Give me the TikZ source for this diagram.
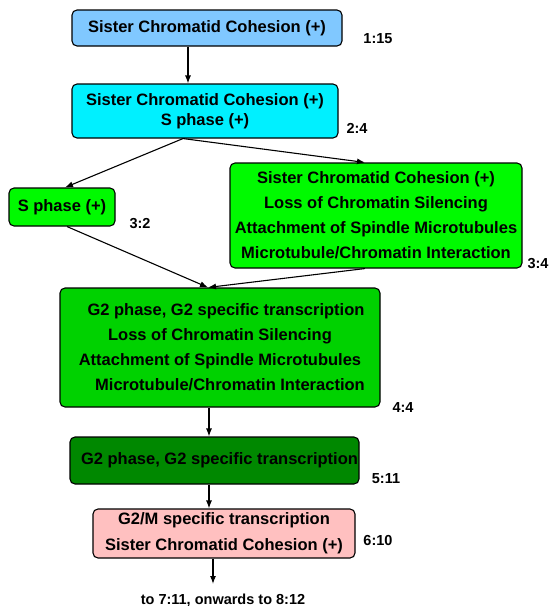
\documentclass[tikz,border=0pt]{standalone}
\usepackage{fontspec}
\setmainfont{Liberation Sans}
\usetikzlibrary{arrows.meta}
\definecolor{cA}{RGB}{128,200,255}
\definecolor{cB}{RGB}{0,240,255}
\definecolor{cC}{RGB}{0,250,0}
\definecolor{cD}{RGB}{0,210,0}
\definecolor{cE}{RGB}{0,136,0}
\definecolor{cF}{RGB}{255,192,192}
\tikzset{
  box/.style={draw=black, line width=1.1pt, rounded corners=5pt, align=center, inner sep=0pt,
    font=\fontsize{16.5}{20}\selectfont\bfseries},
  lab/.style={font=\fontsize{14.5}{17}\selectfont\bfseries, inner sep=0pt},
  arr/.style={line width=1.1pt, -{Latex[length=8pt,width=6pt]}},
}
\begin{document}
\begin{tikzpicture}[x=1pt,y=-1pt]
\useasboundingbox (0,0) rectangle (556,606);
\node[box, fill=cA, minimum width=270, minimum height=36] (b1) at (207,28) {Sister Chromatid Cohesion (+)};
\node[box, fill=cB, minimum width=266, minimum height=54] (b2) at (205,111) {Sister Chromatid Cohesion (+)\\S phase (+)};
\node[box, fill=cC, minimum width=106, minimum height=38] (b3) at (62,207) {S phase (+)};
\node[box, fill=cC, minimum width=292, minimum height=105, font=\fontsize{16.5}{25}\selectfont\bfseries] (b4) at (376,215.5)
  {Sister Chromatid Cohesion (+)\\Loss of Chromatin Silencing\\Attachment of Spindle Microtubules\\Microtubule/Chromatin Interaction};
\node[box, fill=cD, minimum width=320, minimum height=119, font=\fontsize{16.5}{25}\selectfont\bfseries] (b5) at (220,347.5)
  {\hspace*{12pt}G2 phase, G2 specific transcription\\Loss of Chromatin Silencing\hspace*{6pt}\\Attachment of Spindle Microtubules\\\hspace*{20pt}Microtubule/Chromatin Interaction};
\node[box, fill=cE, minimum width=289, minimum height=47] (b6) at (214.5,460.5) {\hspace*{10pt}G2 phase, G2 specific transcription};
\node[box, fill=cF, minimum width=262, minimum height=49, font=\fontsize{16.5}{26}\selectfont\bfseries] (b7) at (224,533.5)
  {G2/M specific transcription\\Sister Chromatid Cohesion (+)};

\node[lab] (l1) at (378,39) {1:15};
\node[lab] (l2) at (357,128) {2:4};
\node[lab] (l3) at (140,224) {3:2};
\node[lab] (l4) at (538,264) {3:4};
\node[lab] (l5) at (403,408) {4:4};
\node[lab] (l6) at (386,479) {5:11};
\node[lab] (l7) at (378,541) {6:10};
\node[lab] (l8) at (223,600) {to 7:11, onwards to 8:12};
\coordinate (end) at (213,584);

\draw[arr] ([xshift=-19pt]b1.south) -- ([xshift=-17pt]b2.north);
\draw[arr] ([xshift=-22pt]b2.south) -- ([xshift=3pt]b3.north);
\draw[arr] ([xshift=-22pt]b2.south) -- ([xshift=-11pt]b4.north);
\draw[arr] ([xshift=5pt]b3.south) -- ([xshift=-12pt]b5.north);
\draw[arr] ([xshift=-11pt]b4.south) -- ([xshift=-12pt]b5.north);
\draw[arr] ([xshift=-11pt]b5.south) -- ([xshift=-5.5pt]b6.north);
\draw[arr] ([xshift=-5.5pt]b6.south) -- ([xshift=-15pt]b7.north);
\draw[arr] ([xshift=-11pt]b7.south) -- (end);
\end{tikzpicture}
\end{document}
